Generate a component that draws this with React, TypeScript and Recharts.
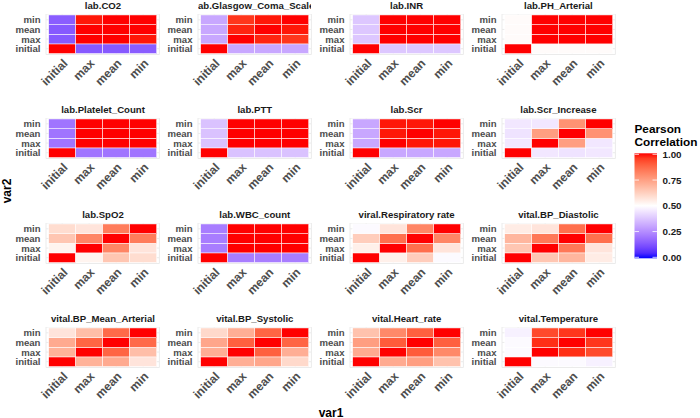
import React from 'react';
import { ScatterChart, Scatter, XAxis, YAxis, CartesianGrid } from 'recharts';

// ---------- data ----------
const var1Categories = ['initial', 'max', 'mean', 'min'];
const var2Categories = ['initial', 'max', 'mean', 'min'];

const panelTitles = [
  'lab.CO2', 'lab.Glasgow_Coma_Scale', 'lab.INR', 'lab.PH_Arterial',
  'lab.Platelet_Count', 'lab.PTT', 'lab.Scr', 'lab.Scr_Increase',
  'lab.SpO2', 'lab.WBC_count', 'viral.Respiratory rate', 'vital.BP_Diastolic',
  'vital.BP_Mean_Arterial', 'vital.BP_Systolic', 'vital.Heart_rate', 'vital.Temperature',
];

// rows = var2 (initial, max, mean, min), columns = var1 (initial, max, mean, min)
const labCO2 = [
  [1, 0.14, 0.14, 0.15],
  [0.14, 1, 1, 0.99],
  [0.14, 1, 1, 1],
  [0.15, 0.99, 1, 1],
];
const labGlasgow = [
  [1, 0.31, 0.31, 0.31],
  [0.31, 1, 0.98, 0.96],
  [0.31, 0.98, 1, 0.99],
  [0.31, 0.96, 0.99, 1],
];
const labINR = [
  [1, 0.38, 0.38, 0.38],
  [0.38, 1, 1, 1],
  [0.38, 1, 1, 1],
  [0.38, 1, 1, 1],
];
const labPH = [
  [1, 0.51, 0.51, 0.51],
  [0.51, 1, 1, 1],
  [0.51, 1, 1, 1],
  [0.51, 1, 1, 1],
];
const labPlatelet = [
  [1, 0.2, 0.2, 0.2],
  [0.2, 1, 1, 1],
  [0.2, 1, 1, 1],
  [0.2, 1, 1, 1],
];
const labPTT = [
  [1, 0.37, 0.37, 0.37],
  [0.37, 1, 1, 1],
  [0.37, 1, 1, 1],
  [0.37, 1, 1, 1],
];
const labScr = [
  [1, 0.31, 0.31, 0.31],
  [0.31, 1, 0.99, 0.99],
  [0.31, 0.99, 1, 0.99],
  [0.31, 0.99, 0.99, 1],
];
const labScrIncrease = [
  [1, 0.45, 0.44, 0.45],
  [0.45, 1, 0.75, 0.45],
  [0.44, 0.75, 1, 0.78],
  [0.45, 0.45, 0.78, 1],
];
const labSpO2 = [
  [1, 0.53, 0.65, 0.59],
  [0.53, 1, 0.81, 0.57],
  [0.65, 0.81, 1, 0.83],
  [0.59, 0.57, 0.83, 1],
];
const labWBC = [
  [1, 0.22, 0.22, 0.22],
  [0.22, 1, 1, 1],
  [0.22, 1, 1, 1],
  [0.22, 1, 1, 1],
];
const viralResp = [
  [1, 0.54, 0.63, 0.49],
  [0.54, 1, 0.86, 0.57],
  [0.63, 0.86, 1, 0.81],
  [0.49, 0.57, 0.81, 1],
];
const vitalBPDiastolic = [
  [1, 0.65, 0.69, 0.55],
  [0.65, 1, 0.84, 0.57],
  [0.69, 0.84, 1, 0.86],
  [0.55, 0.57, 0.86, 1],
];
const vitalBPMean = [
  [1, 0.7, 0.72, 0.57],
  [0.7, 1, 0.88, 0.67],
  [0.72, 0.88, 1, 0.87],
  [0.57, 0.67, 0.87, 1],
];
const vitalBPSystolic = [
  [1, 0.71, 0.73, 0.6],
  [0.71, 1, 0.89, 0.71],
  [0.73, 0.89, 1, 0.88],
  [0.6, 0.71, 0.88, 1],
];
const vitalHeartRate = [
  [1, 0.72, 0.75, 0.66],
  [0.72, 1, 0.9, 0.8],
  [0.75, 0.9, 1, 0.89],
  [0.66, 0.8, 0.89, 1],
];
const vitalTemperature = [
  [1, 0.49, 0.49, 0.47],
  [0.49, 1, 0.97, 0.93],
  [0.49, 0.97, 1, 0.96],
  [0.47, 0.93, 0.96, 1],
];

const panelMatrices = [
  labCO2, labGlasgow, labINR, labPH,
  labPlatelet, labPTT, labScr, labScrIncrease,
  labSpO2, labWBC, viralResp, vitalBPDiastolic,
  vitalBPMean, vitalBPSystolic, vitalHeartRate, vitalTemperature,
];

const legendBreaks = [0, 0.25, 0.5, 0.75, 1];
const legendLabels = ['0.00', '0.25', '0.50', '0.75', '1.00'];

// ---------- colour scale (gradient2 in Lab: blue - white - red, midpoint 0.5) ----------
const toLinear = (c: number) => {
  const s = c / 255;
  return s <= 0.04045 ? s / 12.92 : Math.pow((s + 0.055) / 1.055, 2.4);
};
const toSrgb = (c: number) => {
  const s = c <= 0.0031308 ? 12.92 * c : 1.055 * Math.pow(Math.max(c, 0), 1 / 2.4) - 0.055;
  return Math.round(Math.min(1, Math.max(0, s)) * 255);
};
const KAPPA = 24389 / 27;
const EPS = 216 / 24389;
function rgbToLab(rgb: number[]) {
  const [r, g, b] = rgb.map(toLinear);
  const X = (0.4124564 * r + 0.3575761 * g + 0.1804375 * b) / 0.95047;
  const Y = 0.2126729 * r + 0.7151522 * g + 0.072175 * b;
  const Z = (0.0193339 * r + 0.119192 * g + 0.9503041 * b) / 1.08883;
  const f = (t: number) => (t > EPS ? Math.cbrt(t) : (KAPPA * t + 16) / 116);
  const fx = f(X), fy = f(Y), fz = f(Z);
  return [116 * fy - 16, 500 * (fx - fy), 200 * (fy - fz)];
}
function labToRgb(lab: number[]) {
  const [L, a, b] = lab;
  const fy = (L + 16) / 116;
  const fx = fy + a / 500;
  const fz = fy - b / 200;
  const inv = (t: number) => (t * t * t > EPS ? t * t * t : (116 * t - 16) / KAPPA);
  const X = inv(fx) * 0.95047;
  const Y = L > 8 ? fy * fy * fy : L / KAPPA;
  const Z = inv(fz) * 1.08883;
  const r = 3.2404542 * X - 1.5371385 * Y - 0.4985314 * Z;
  const g = -0.969266 * X + 1.8760108 * Y + 0.041556 * Z;
  const bb = 0.0556434 * X - 0.2040259 * Y + 1.0572252 * Z;
  return [toSrgb(r), toSrgb(g), toSrgb(bb)];
}
const LOW_LAB = rgbToLab([0, 0, 255]);
const MID_LAB = rgbToLab([255, 255, 255]);
const HIGH_LAB = rgbToLab([255, 0, 0]);
function fillColor(v: number) {
  const [A, B, t] = v <= 0.5 ? [LOW_LAB, MID_LAB, v / 0.5] : [MID_LAB, HIGH_LAB, (v - 0.5) / 0.5];
  const lab = A.map((c, i) => c + (B[i] - c) * t);
  const [r, g, b] = labToRgb(lab);
  return `rgb(${r},${g},${b})`;
}

// ---------- layout ----------
const FONT = '"Liberation Sans", Arial, Helvetica, sans-serif';
const PLOT_W = 113.4;
const PLOT_H = 40.5;
const COL0 = 46.3;
const COL_STEP = 151.8;
const ROW0 = 13.8;
const ROW_STEP = 104.5;
const Y_AXIS_W = 46;
const X_AXIS_H = 60;
const CELL_W = PLOT_W / 4.2;
const CELL_H = PLOT_H / 4.2;
const TITLE_SIZE = 9.6;

const XTick = (props: any) => {
  const { x, y, payload } = props;
  return (
    <text
      x={x}
      y={y}
      dy="0.72em"
      transform={`rotate(-45 ${x} ${y})`}
      textAnchor="end"
      fontSize={12}
      fontWeight="bold"
      fontFamily={FONT}
      fill="#4D4D4D"
    >
      {var1Categories[payload.value]}
    </text>
  );
};

const YTick = (props: any) => {
  const { x, y, payload } = props;
  return (
    <text x={x} y={y} dy="0.36em" textAnchor="end" fontSize={9.6} fontWeight="bold" fontFamily={FONT} fill="#4D4D4D">
      {var2Categories[payload.value]}
    </text>
  );
};

const renderCell = (props: any) => {
  const { cx, cy, payload } = props;
  return (
    <rect
      x={cx - CELL_W / 2}
      y={cy - CELL_H / 2}
      width={CELL_W}
      height={CELL_H}
      fill={fillColor(payload.v)}
      stroke="#FFFFFF"
      strokeWidth={0.5}
    />
  );
};

function Panel({ index }: { index: number }) {
  const col = index % 4;
  const row = Math.floor(index / 4);
  const left = COL0 + COL_STEP * col;
  const top = ROW0 + ROW_STEP * row;
  const matrix = panelMatrices[index];
  const cells: { x: number; y: number; v: number }[] = [];
  matrix.forEach((r, yi) => r.forEach((v, xi) => cells.push({ x: xi, y: yi, v })));
  return (
    <>
      <div
        style={{
          position: 'absolute',
          left,
          top: top - 13.1,
          width: PLOT_W,
          height: 13,
          display: 'flex',
          justifyContent: 'center',
          overflow: 'hidden',
          whiteSpace: 'nowrap',
          fontFamily: FONT,
          fontWeight: 'bold',
          fontSize: TITLE_SIZE,
          lineHeight: `${TITLE_SIZE}px`,
          color: '#1A1A1A',
        }}
      >
        <span style={{ flexShrink: 0 }}>{panelTitles[index]}</span>
      </div>
      <div style={{ position: 'absolute', left: left - Y_AXIS_W, top }}>
        <ScatterChart
          width={Y_AXIS_W + PLOT_W + 2}
          height={PLOT_H + X_AXIS_H}
          margin={{ top: 0, right: 2, bottom: 0, left: 0 }}
        >
          <CartesianGrid stroke="#EBEBEB" strokeWidth={1} />
          <XAxis
            type="number"
            dataKey="x"
            domain={[-0.6, 3.6]}
            ticks={[0, 1, 2, 3]}
            interval={0}
            allowDataOverflow
            tickLine={false}
            axisLine={false}
            tickSize={0}
            tickMargin={3.5}
            height={X_AXIS_H}
            tick={XTick}
          />
          <YAxis
            type="number"
            dataKey="y"
            domain={[-0.6, 3.6]}
            ticks={[0, 1, 2, 3]}
            interval={0}
            allowDataOverflow
            tickLine={false}
            axisLine={false}
            tickSize={0}
            tickMargin={5.5}
            width={Y_AXIS_W}
            tick={YTick}
          />
          <Scatter data={cells} shape={renderCell} isAnimationActive={false} />
        </ScatterChart>
      </div>
    </>
  );
}

const BAR_X = 634.5;
const BAR_Y = 153.3;
const BAR_W = 22.5;
const BAR_H = 105;
const gradientStops = Array.from({ length: 21 }, (_, i) => i / 20);

function LegendAndTitles() {
  const yFor = (v: number) => BAR_Y + BAR_H - 1 - v * (BAR_H - 2);
  return (
    <svg width={700} height={418} style={{ position: 'absolute', left: 0, top: 0, pointerEvents: 'none' }}>
      <defs>
        <linearGradient id="pearsonGrad" x1="0" y1="1" x2="0" y2="0">
          {gradientStops.map((v) => (
            <stop key={v} offset={v} stopColor={fillColor(v)} />
          ))}
        </linearGradient>
      </defs>
      <text x={BAR_X} y={133} fontFamily={FONT} fontWeight="bold" fontSize={11.8} fill="#000">Pearson</text>
      <text x={BAR_X} y={146.3} fontFamily={FONT} fontWeight="bold" fontSize={11.8} fill="#000">Correlation</text>
      <rect x={BAR_X} y={BAR_Y} width={BAR_W} height={BAR_H} fill="url(#pearsonGrad)" />
      {legendBreaks.map((v, i) => (
        <g key={v}>
          <line x1={BAR_X} x2={BAR_X + 4.5} y1={yFor(v)} y2={yFor(v)} stroke="#FFFFFF" strokeWidth={0.8} />
          <line x1={BAR_X + BAR_W - 4.5} x2={BAR_X + BAR_W} y1={yFor(v)} y2={yFor(v)} stroke="#FFFFFF" strokeWidth={0.8} />
          <text x={662.5} y={yFor(v)} dy="0.36em" fontFamily={FONT} fontWeight="bold" fontSize={9.8} fill="#1A1A1A">
            {legendLabels[i]}
          </text>
        </g>
      ))}
      <text x={331} y={416.5} textAnchor="middle" fontFamily={FONT} fontWeight="bold" fontSize={12} fill="#000">var1</text>
      <text
        x={-191}
        y={10.5}
        transform="rotate(-90)"
        textAnchor="middle"
        fontFamily={FONT}
        fontWeight="bold"
        fontSize={12}
        fill="#000"
      >
        var2
      </text>
    </svg>
  );
}

export default function App() {
  return (
    <div
      style={{
        position: 'fixed',
        left: 0,
        top: 0,
        width: 700,
        height: 418,
        background: '#FFFFFF',
        overflow: 'hidden',
        fontFamily: FONT,
      }}
    >
      {panelTitles.map((_, i) => (
        <Panel key={i} index={i} />
      ))}
      <LegendAndTitles />
    </div>
  );
}
